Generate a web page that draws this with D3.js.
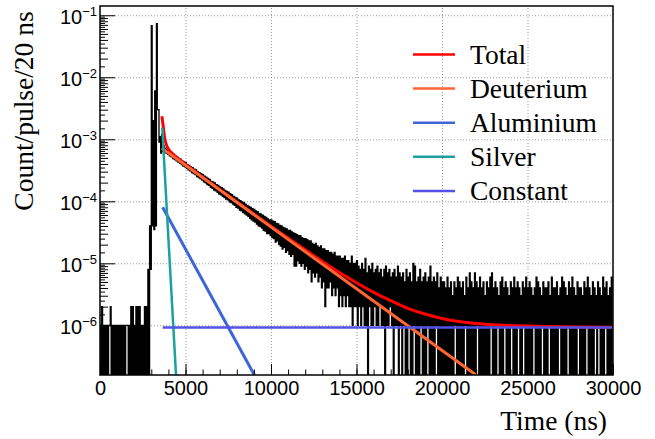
<!DOCTYPE html>
<html>
<head>
<meta charset="utf-8">
<script src="https://cdn.jsdelivr.net/npm/d3@7"></script>
<style>
  body { margin: 0; background: #fff; }
  svg { display: block; }
</style>
</head>
<body>
<svg width="655" height="439"></svg>
<script>
// measured spectrum, read off in 100 ns wide columns:
// highest and lowest 20 ns bin inside each column (count/pulse/20 ns)
const binWidth = 100;
const histHigh = [
  1e-6, 2e-6, 1e-6, 1e-6, 1e-6, 1e-6, 2e-6, 1e-6, 1e-6, 1e-6,
  1e-6, 1e-6, 1e-6, 1e-6, 1e-6, 1e-6, 1e-6, 1e-6, 2e-6, 2e-6,
  1e-6, 2e-6, 2e-6, 2e-6, 1e-6, 1e-6, 2e-6, 2e-6, 8e-6, 4e-5,
  6.8e-2, 2e-3, 6e-3, 7.3e-2, 3e-3, 1.1e-3, 1.2e-3, 8.0e-4, 7.2e-4, 6.8e-4,
  6.5e-4, 6.2e-4, 5.9e-4, 5.7e-4, 5.4e-4, 5.2e-4, 4.9e-4, 4.8e-4, 4.5e-4, 4.3e-4,
  4.2e-4, 3.9e-4, 3.8e-4, 3.6e-4, 3.5e-4, 3.3e-4, 3.2e-4, 3.0e-4, 2.9e-4, 2.8e-4,
  2.7e-4, 2.55e-4, 2.45e-4, 2.35e-4, 2.25e-4, 2.1e-4, 2.05e-4, 1.98e-4, 1.85e-4, 1.8e-4,
  1.7e-4, 1.66e-4, 1.58e-4, 1.5e-4, 1.45e-4, 1.4e-4, 1.33e-4, 1.28e-4, 1.2e-4, 1.16e-4,
  1.12e-4, 1.05e-4, 1.02e-4, 9.8e-5, 9.5e-5, 9.0e-5, 8.6e-5, 8.3e-5, 8.0e-5, 7.6e-5,
  7.4e-5, 7.0e-5, 6.8e-5, 6.4e-5, 6.2e-5, 6.0e-5, 5.7e-5, 5.5e-5, 5.2e-5, 5.0e-5,
  5.0e-5, 4.8e-5, 4.7e-5, 4.4e-5, 4.3e-5, 4.1e-5, 4.0e-5, 3.8e-5, 3.7e-5, 3.6e-5,
  3.4e-5, 3.4e-5, 3.2e-5, 3.1e-5, 3.0e-5, 2.9e-5, 2.8e-5, 2.8e-5, 2.6e-5, 2.5e-5,
  2.5e-5, 2.4e-5, 2.3e-5, 2.3e-5, 2.1e-5, 2.0e-5, 2.1e-5, 1.9e-5, 1.8e-5, 1.9e-5,
  1.7e-5, 1.7e-5, 1.6e-5, 1.6e-5, 1.5e-5, 1.5e-5, 1.4e-5, 1.5e-5, 1.3e-5, 1.3e-5,
  1.3e-5, 1.2e-5, 1.2e-5, 1.3e-5, 1.1e-5, 1.1e-5, 1.0e-5, 1.3e-5, 1.0e-5, 1.0e-5,
  1.1e-5, 9e-6, 8e-6, 1e-5, 8e-6, 1.2e-5, 7e-6, 9e-6, 8e-6, 1e-5,
  7e-6, 8e-6, 9e-6, 7e-6, 8e-6, 6e-6, 8e-6, 9e-6, 7e-6, 8e-6,
  6e-6, 7e-6, 8e-6, 6e-6, 9e-6, 7e-6, 6e-6, 7e-6, 5e-6, 8e-6,
  6e-6, 7e-6, 5e-6, 1e-5, 9e-6, 5e-6, 6e-6, 8e-6, 5e-6, 6e-6,
  7e-6, 5e-6, 6e-6, 9e-6, 5e-6, 6e-6, 5e-6, 7e-6, 4e-6, 6e-6,
  5e-6, 5e-6, 4e-6, 6e-6, 4e-6, 5e-6, 3e-6, 5e-6, 4e-6, 6e-6,
  5e-6, 4e-6, 5e-6, 3e-6, 6e-6, 4e-6, 7e-6, 5e-6, 4e-6, 7e-6,
  5e-6, 4e-6, 6e-6, 4e-6, 5e-6, 3e-6, 5e-6, 4e-6, 6e-6, 7e-6,
  4e-6, 5e-6, 4e-6, 3e-6, 5e-6, 6e-6, 4e-6, 5e-6, 4e-6, 3e-6,
  5e-6, 4e-6, 6e-6, 4e-6, 5e-6, 4e-6, 3e-6, 5e-6, 4e-6, 6e-6,
  4e-6, 5e-6, 4e-6, 3e-6, 4e-6, 6e-6, 5e-6, 4e-6, 3e-6, 5e-6,
  4e-6, 4e-6, 5e-6, 3e-6, 6e-6, 4e-6, 4e-6, 5e-6, 3e-6, 4e-6,
  6e-6, 5e-6, 4e-6, 3e-6, 5e-6, 4e-6, 6e-6, 4e-6, 3e-6, 5e-6,
  4e-6, 4e-6, 3e-6, 5e-6, 4e-6, 6e-6, 4e-6, 3e-6, 5e-6, 4e-6,
  3e-6, 5e-6, 4e-6, 3e-6, 6e-6, 4e-6, 5e-6, 3e-6, 4e-6, 6e-6
];
const histLow = [
  0, 0, 0, 0, 0, 1e-6, 0, 0, 0, 0,
  0, 0, 0, 0, 0, 1e-6, 0, 0, 0, 0,
  0, 0, 0, 0, 0, 0, 0, 0, 0, 8e-6,
  4e-5, 3.5e-5, 4e-5, 3e-3, 9e-4, 6e-4, 6.4e-4, 6.3e-4, 6.0e-4, 5.7e-4,
  5.4e-4, 5.2e-4, 4.9e-4, 4.7e-4, 4.5e-4, 4.3e-4, 4.1e-4, 3.9e-4, 3.7e-4, 3.6e-4,
  3.4e-4, 3.2e-4, 3.1e-4, 2.9e-4, 2.8e-4, 2.7e-4, 2.5e-4, 2.4e-4, 2.3e-4, 2.2e-4,
  2.05e-4, 1.98e-4, 1.85e-4, 1.8e-4, 1.68e-4, 1.62e-4, 1.52e-4, 1.48e-4, 1.4e-4, 1.3e-4,
  1.27e-4, 1.2e-4, 1.15e-4, 1.08e-4, 1.05e-4, 9.8e-5, 9.5e-5, 9.0e-5, 8.6e-5, 8.0e-5,
  7.8e-5, 7.2e-5, 7.0e-5, 6.6e-5, 6.3e-5, 6.0e-5, 5.7e-5, 5.3e-5, 5.0e-5, 4.8e-5,
  4.6e-5, 4.3e-5, 4.0e-5, 3.9e-5, 3.7e-5, 3.4e-5, 3.3e-5, 3.0e-5, 3.0e-5, 2.8e-5,
  2.6e-5, 2.5e-5, 2.2e-5, 2.3e-5, 2.0e-5, 1.9e-5, 1.7e-5, 1.8e-5, 1.5e-5, 1.6e-5,
  1.4e-5, 1.3e-5, 1.4e-5, 9e-6, 9e-6, 1.1e-5, 1.0e-5, 9e-6, 1.0e-5, 8e-6,
  9e-6, 7e-6, 8e-6, 5e-6, 7e-6, 6e-6, 7e-6, 5e-6, 6e-6, 4e-6,
  5e-6, 2e-6, 4e-6, 4e-6, 5e-6, 3e-6, 4e-6, 3e-6, 4e-6, 2e-6,
  3e-6, 2e-6, 3e-6, 2e-6, 3e-6, 2e-6, 2e-6, 1e-6, 2e-6, 2e-6,
  1e-6, 2e-6, 1e-6, 2e-6, 1e-6, 1e-6, 0, 2e-6, 1e-6, 1e-6,
  2e-6, 1e-6, 1e-6, 2e-6, 1e-6, 1e-6, 0, 1e-6, 1e-6, 2e-6,
  1e-6, 0, 1e-6, 1e-6, 0, 1e-6, 0, 1e-6, 0, 0,
  1e-6, 0, 0, 1e-6, 0, 0, 0, 1e-6, 0, 0,
  0, 1e-6, 0, 0, 0, 0, 1e-6, 0, 0, 0,
  0, 0, 0, 0, 0, 0, 0, 1e-6, 0, 0,
  0, 0, 0, 1e-6, 0, 0, 0, 0, 0, 0,
  1e-6, 0, 0, 0, 0, 0, 0, 0, 1e-6, 0,
  0, 0, 1e-6, 0, 0, 0, 1e-6, 0, 0, 0,
  1e-6, 0, 0, 0, 1e-6, 0, 0, 1e-6, 0, 0,
  0, 0, 0, 1e-6, 0, 0, 0, 0, 1e-6, 0,
  0, 0, 1e-6, 0, 0, 0, 0, 0, 1e-6, 0,
  0, 0, 0, 1e-6, 0, 0, 0, 0, 0, 1e-6,
  0, 0, 0, 0, 1e-6, 0, 0, 0, 0, 1e-6,
  0, 1e-6, 0, 0, 0, 1e-6, 0, 0, 0, 0
];

// fit curves, points (time in ns, count/pulse/20 ns)
const totalTime  = [3620, 3700, 3780, 3880, 4000, 4200, 5000, 6000, 8000, 10000, 12000, 14000, 15000,
                    16000, 17000, 18000, 19000, 20000, 21000, 22000, 23000, 24000, 26000, 28000, 30000];
const totalValue = [2.35e-3, 1.6e-3, 1.05e-3, 8.2e-4, 7.0e-4, 6.0e-4, 3.95e-4, 2.45e-4, 9.8e-5, 3.95e-5, 1.65e-5, 7.1e-6, 4.85e-6,
                    3.4e-6, 2.5e-6, 1.88e-6, 1.52e-6, 1.29e-6, 1.15e-6, 1.07e-6, 1.02e-6, 0.99e-6, 0.96e-6, 0.94e-6, 0.93e-6];
const deuteriumTime  = [3610, 21990];
const deuteriumValue = [7.2e-4, 1.58e-7];
const aluminiumTime  = [3665, 9025];
const aluminiumValue = [8e-5, 1.58e-7];
const silverTime  = [3640, 4445];
const silverValue = [1.55e-3, 1.58e-7];
const constantTime  = [3665, 30000];
const constantValue = [9.2e-7, 9.2e-7];

const legendLabels = ["Total", "Deuterium", "Aluminium", "Silver", "Constant"];
const xTicks = [0, 5000, 10000, 15000, 20000, 25000, 30000];
const yTickExponents = [-6, -5, -4, -3, -2, -1];

let width = 655,
    height = 439;
let plotLeft = 100, plotRight = 613, plotTop = 6, plotBottom = 375;
let svg = d3.select("svg");
let x = d3.scaleLinear().domain([0, 30000]).range([plotLeft, plotRight]);
let y = d3.scaleLog().domain([1.58e-7, 0.141]).range([plotBottom, plotTop]);
let yv = v => v > 0 ? y(v) : plotBottom + 4;   // empty bins fall off the frame

let colors = {
    Total: "#ff0000",
    Deuterium: "#ff6633",
    Aluminium: "#3d66d6",
    Silver: "#1fa0a0",
    Constant: "#5252e6"
};
let widths = { Total: 3, Deuterium: 3, Aluminium: 3, Silver: 2.5, Constant: 2.5 };
let sans = "'Liberation Sans', Arial, Helvetica, sans-serif";
let serif = "'Liberation Serif', 'Times New Roman', Times, serif";

svg.append("defs").append("clipPath").attr("id", "plot")
    .append("rect").attr("x", plotLeft).attr("y", plotTop)
    .attr("width", plotRight - plotLeft).attr("height", plotBottom - plotTop);

// dotted grid
let xGrid = d3.axisBottom(x).tickValues(xTicks.slice(1, -1)).tickSize(-(plotBottom - plotTop)).tickFormat("");
let yGridValues = yTickExponents.map(e => Math.pow(10, e));
let yGrid = d3.axisLeft(y).tickValues(yGridValues).tickSize(-(plotRight - plotLeft)).tickFormat("");
svg.append("g").attr("class", "grid").attr("transform", "translate(0," + plotBottom + ")").call(xGrid);
svg.append("g").attr("class", "grid").attr("transform", "translate(" + plotLeft + ",0)").call(yGrid);
svg.selectAll(".grid .domain").remove();
svg.selectAll(".grid line").attr("stroke", "#9a9a9a").attr("stroke-width", 1).attr("stroke-dasharray", "1,2");

let plot = svg.append("g").attr("clip-path", "url(#plot)");

// histogram drawn as steps: each column holds its highest bin, then its lowest
let histPoints = [];
histHigh.forEach(function(h, i) {
    let t0 = i * binWidth;
    histPoints.push([x(t0), yv(h)]);
    histPoints.push([x(t0 + binWidth / 2), yv(h)]);
    histPoints.push([x(t0 + binWidth / 2), yv(histLow[i])]);
    histPoints.push([x(t0 + binWidth), yv(histLow[i])]);
});
plot.append("path")
    .attr("d", d3.line()(histPoints))
    .attr("fill", "none")
    .attr("stroke", "black")
    .attr("stroke-width", 1.3)
    .attr("stroke-linejoin", "miter");

function drawCurve(name, times, values, curve) {
    let line = d3.line().x(d => x(d[0])).y(d => y(d[1]));
    if (curve) line.curve(curve);
    plot.append("path")
        .attr("d", line(d3.zip(times, values)))
        .attr("fill", "none")
        .attr("stroke", colors[name])
        .attr("stroke-width", widths[name]);
}
drawCurve("Total", totalTime, totalValue, d3.curveMonotoneX);
drawCurve("Deuterium", deuteriumTime, deuteriumValue);
drawCurve("Aluminium", aluminiumTime, aluminiumValue);
drawCurve("Silver", silverTime, silverValue);
drawCurve("Constant", constantTime, constantValue);

// axes, ticks pointing into the frame
let xMinor = d3.range(0, 30001, 1000);
svg.append("g").attr("transform", "translate(0," + plotBottom + ")")
    .call(d3.axisBottom(x).tickValues(xMinor).tickSize(-5.5).tickFormat("").tickSizeOuter(0));
let gx = svg.append("g").attr("transform", "translate(0," + plotBottom + ")")
    .call(d3.axisBottom(x).tickValues(xTicks).tickSize(-11).tickPadding(6)
        .tickFormat(d3.format("d")).tickSizeOuter(0));
gx.selectAll("text").attr("font-family", sans).attr("font-size", 20).attr("fill", "black");

let yMinorInt = [], yMinorHalf = [];
for (let e = -7; e <= -1; e++) {
    for (let k = 1.5; k < 10; k += 0.5) {
        let v = k * Math.pow(10, e);
        if (v < 1.58e-7 || v > 0.141) continue;
        if (k % 1 === 0) yMinorInt.push(v); else yMinorHalf.push(v);
    }
}
svg.append("g").attr("transform", "translate(" + plotLeft + ",0)")
    .call(d3.axisLeft(y).tickValues(yMinorHalf).tickSize(-5).tickFormat("").tickSizeOuter(0));
svg.append("g").attr("transform", "translate(" + plotLeft + ",0)")
    .call(d3.axisLeft(y).tickValues(yMinorInt).tickSize(-8).tickFormat("").tickSizeOuter(0));
let gy = svg.append("g").attr("transform", "translate(" + plotLeft + ",0)")
    .call(d3.axisLeft(y).tickValues(yGridValues).tickSize(-15).tickPadding(3).tickFormat("").tickSizeOuter(0));
gy.selectAll(".tick text").each(function(d) {
    let t = d3.select(this).attr("dy", null).attr("y", 8)
        .attr("font-family", sans).attr("font-size", 20).attr("fill", "black");
    t.append("tspan").text("10");
    t.append("tspan").attr("dy", -8).attr("font-size", 13)
        .text("\u2212" + Math.abs(Math.round(Math.log10(d))));
});
svg.selectAll(".domain").remove();
svg.selectAll(".tick line").filter(function() { return !this.closest(".grid"); })
    .attr("stroke", "black").attr("stroke-width", 1);

// frame
svg.append("rect")
    .attr("x", plotLeft).attr("y", plotTop)
    .attr("width", plotRight - plotLeft).attr("height", plotBottom - plotTop)
    .attr("fill", "none").attr("stroke", "black").attr("stroke-width", 1.5);

// titles
svg.append("text")
    .attr("x", 607).attr("y", 430)
    .attr("text-anchor", "end")
    .attr("font-family", serif).attr("font-size", 27.5)
    .text("Time (ns)");
svg.append("text")
    .attr("transform", "translate(33,111) rotate(-90)")
    .attr("text-anchor", "middle")
    .attr("font-family", serif).attr("font-size", 27.5)
    .text("Count/pulse/20 ns");

// legend
let legend = svg.append("g");
legendLabels.forEach(function(name, i) {
    let ly = 54.5 + i * 34.1;
    legend.append("line")
        .attr("x1", 413).attr("x2", 455).attr("y1", ly).attr("y2", ly)
        .attr("stroke", colors[name]).attr("stroke-width", 2.5);
    legend.append("text")
        .attr("x", 470).attr("y", ly + 9.5)
        .attr("font-family", serif).attr("font-size", 27.5)
        .text(name);
});
</script>
</body>
</html>
